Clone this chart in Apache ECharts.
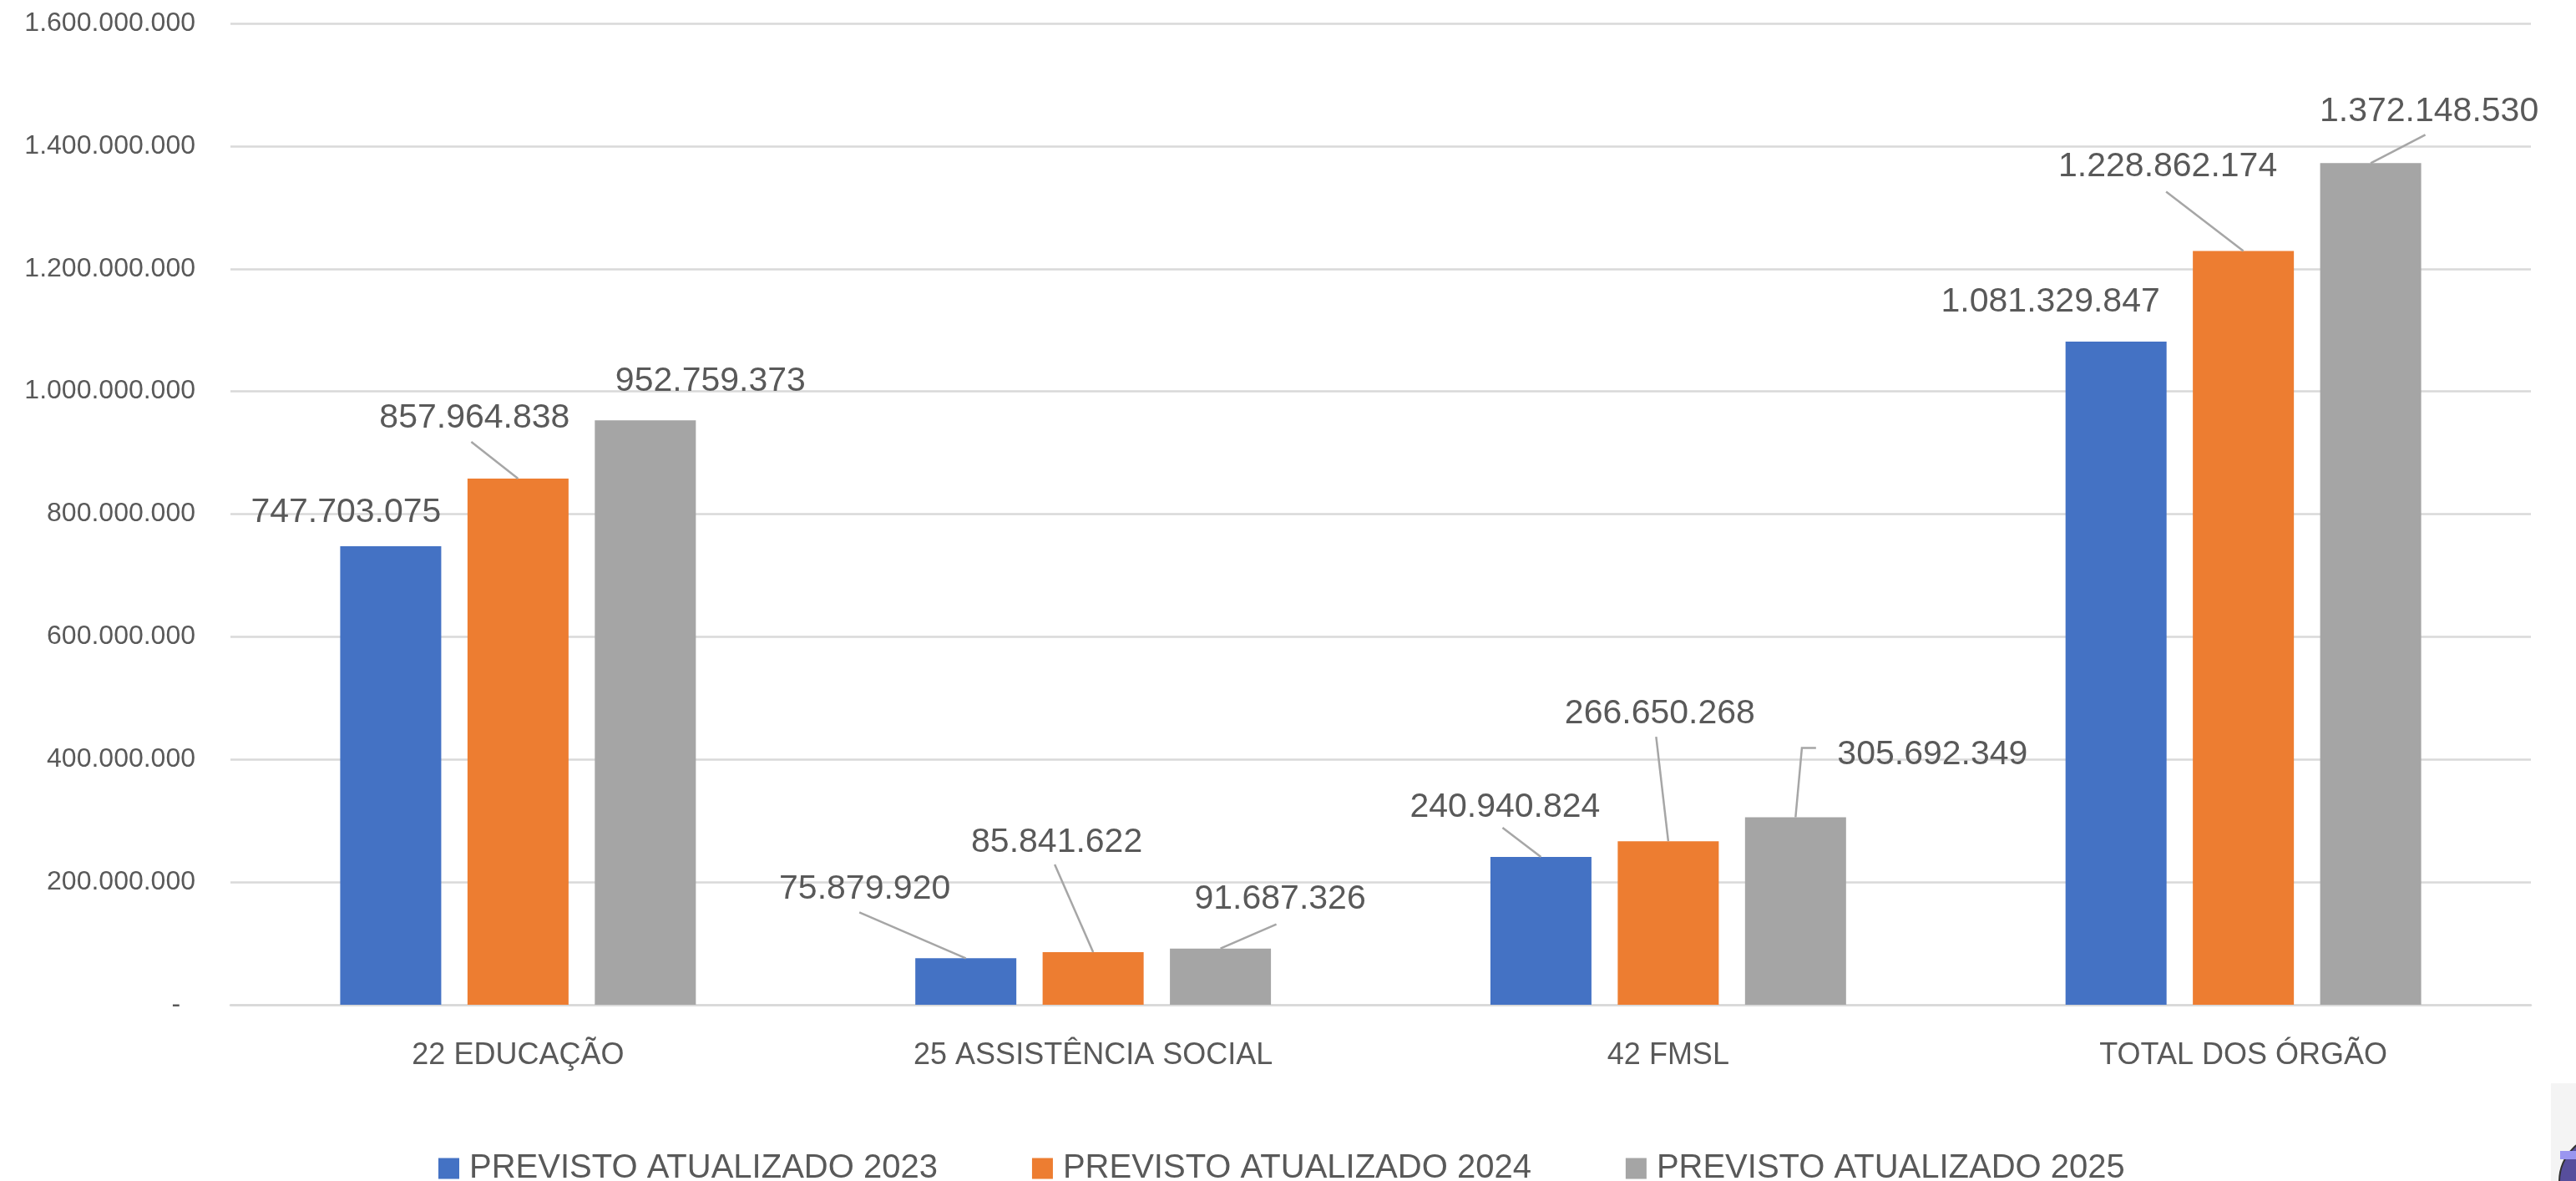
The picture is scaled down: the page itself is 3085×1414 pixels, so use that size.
<!DOCTYPE html>
<html>
<head>
<meta charset="utf-8">
<script src="https://cdn.jsdelivr.net/npm/echarts@6/dist/echarts.min.js"></script>
<style>
html,body{margin:0;padding:0;background:#fff;}
#chart{width:3085px;height:1414px;}
</style>
</head>
<body>
<div id="chart"></div>
<script>
const categories = ['22 EDUCAÇÃO', '25 ASSISTÊNCIA SOCIAL', '42 FMSL', 'TOTAL DOS ÓRGÃO'];
const seriesNames = ['PREVISTO ATUALIZADO 2023', 'PREVISTO ATUALIZADO 2024', 'PREVISTO ATUALIZADO 2025'];
const values2023 = [747703075, 75879920, 240940824, 1081329847];
const values2024 = [857964838, 85841622, 266650268, 1228862174];
const values2025 = [952759373, 91687326, 305692349, 1372148530];
const yTicks = { min: 0, max: 1600000000, interval: 200000000 };

// label offsets (dx, dy) from the default "top" position, per series / category
const labelOffsets = [
  [[-53.5, -14.5], [-121, -57], [-43, -34], [-78.5, -22]],
  [[-52, -47], [-43.5, -106], [-10, -127], [-90.5, -75]],
  [[78, -21], [71.5, -33], [164, -49.5], [70, -36.5]]
];
// leader line points relative to the bar's top-centre (null = no line)
const leaderLines = [
  [null, [[-127.5, -55], [0, 0]], [[-46, -35], [0, 0]], null],
  [[[-56, -44], [0, 0]], [[-46, -105], [0, 0]], [[-14.5, -125], [0, 0]], [[-92.5, -71], [0, 0]]],
  [null, [[67, -29], [0, 0]], [[24.5, -83], [7.6, -83], [0, 0]], [[65.5, -34], [0, 0]]]
];

const colors = ['#4472C4', '#ED7D31', '#A5A5A5'];
const FONT = '"Liberation Sans", Arial, sans-serif';
const TXT = '#595959';
const BAR_W = 121;
const BAR_GAP = 0.26;

function fmt(v) {
  if (v === 0) return '-\u00a0\u00a0';
  return String(v).replace(/\B(?=(\d{3})+(?!\d))/g, '.');
}

const allValues = [values2023, values2024, values2025];

const chart = echarts.init(document.getElementById('chart'), null, { renderer: 'canvas' });

const barSeries = allValues.map((vals, si) => ({
  name: seriesNames[si],
  type: 'bar',
  barWidth: BAR_W,
  barGap: (BAR_GAP * 100) + '%',
  itemStyle: { color: colors[si] },
  data: vals,
  label: {
    show: true,
    position: 'top',
    distance: 5,
    fontFamily: FONT,
    fontSize: 41,
    color: TXT,
    formatter: p => fmt(p.value)
  },
  labelLayout: function (params) {
    const o = labelOffsets[params.seriesIndex][params.dataIndex];
    return { dx: o[0], dy: o[1] };
  },
  emphasis: { disabled: true }
}));

const leaderData = [];
allValues.forEach((vals, si) => vals.forEach((v, ci) => leaderData.push([ci, v, si])));

const leaderSeries = {
  type: 'custom',
  silent: true,
  z: 3,
  data: leaderData,
  renderItem: function (params, api) {
    const ci = api.value(0), v = api.value(1), si = api.value(2);
    const pts = leaderLines[si][ci];
    if (!pts) return null;
    const p = api.coord([ci, v]);
    const cx = p[0] + (si - 1) * BAR_W * (1 + BAR_GAP);
    return {
      type: 'polyline',
      shape: { points: pts.map(q => [cx + q[0], p[1] + q[1]]) },
      style: { stroke: '#A6A6A6', lineWidth: 2.5, fill: null }
    };
  }
};

chart.setOption({
  animation: false,
  backgroundColor: '#ffffff',
  grid: { left: 276, right: 54, top: 28, bottom: 211, containLabel: false },
  legend: {
    data: seriesNames,
    left: 520,
    top: 1374,
    itemWidth: 25,
    itemHeight: 25,
    itemGap: 113,
    icon: 'rect',
    textStyle: { fontFamily: FONT, fontSize: 40, color: TXT, padding: [0, 0, 0, 7] }
  },
  xAxis: {
    type: 'category',
    data: categories,
    axisLine: { show: true, lineStyle: { color: '#D9D9D9', width: 2.5 } },
    axisTick: { show: false },
    axisLabel: { fontFamily: FONT, fontSize: 36, color: TXT, margin: 43 }
  },
  yAxis: {
    type: 'value',
    min: yTicks.min,
    max: yTicks.max,
    interval: yTicks.interval,
    axisLine: { show: false },
    axisTick: { show: false },
    splitLine: { lineStyle: { color: '#D9D9D9', width: 2.5 } },
    axisLabel: { fontFamily: FONT, fontSize: 32, color: TXT, margin: 42, formatter: fmt }
  },
  graphic: [
    { type: 'rect', shape: { x: 3055, y: 1297, width: 40, height: 130 }, style: { fill: '#F4F4F4' }, silent: true },
    { type: 'circle', shape: { cx: 3122, cy: 1415, r: 57 }, style: { fill: '#574E9C', stroke: '#333', lineWidth: 2 }, silent: true },
    { type: 'rect', shape: { x: 3066, y: 1378, width: 30, height: 10 }, style: { fill: '#9A96F0' }, silent: true }
  ],
  series: barSeries.concat([leaderSeries])
});
</script>
</body>
</html>
